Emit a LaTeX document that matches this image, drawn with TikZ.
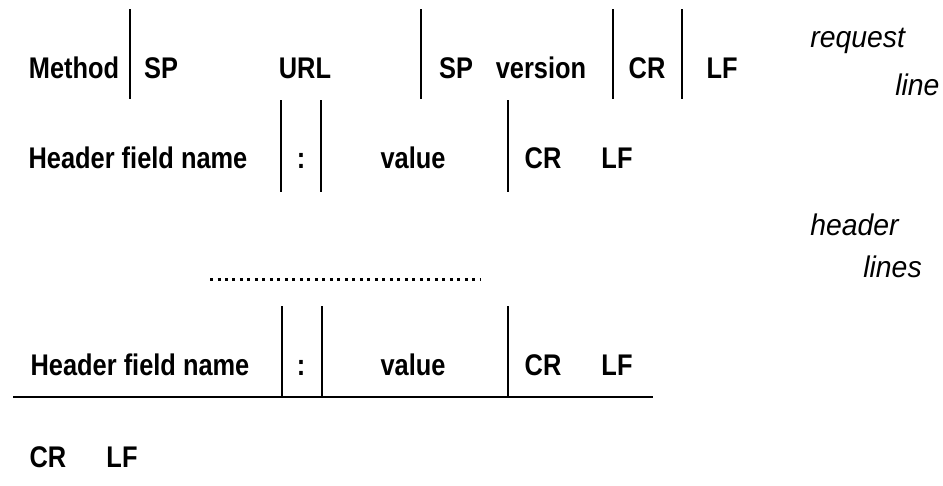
\documentclass[tikz,border=0pt]{standalone}
\usepackage{fontspec}
\setmainfont[FakeStretch=0.85]{Liberation Sans}
\newfontfamily\notefont[FakeStretch=0.95]{Liberation Sans}

\begin{document}
\begin{tikzpicture}[x=0.02cm, y=-0.02cm,
    field/.style={font=\fontsize{17}{20}\selectfont\bfseries, inner sep=0pt, anchor=base},
    note/.style={font=\notefont\fontsize{17}{20}\selectfont\itshape, inner sep=0pt, anchor=base west},
    sep/.style={line width=1.1pt}]
    \useasboundingbox (0,0) rectangle (943,485);
    % request line
    \node[field] (method) at (74,78) {Method};
    \node[field] (sp1) at (161,78) {SP};
    \node[field] (url) at (305,78) {URL};
    \node[field] (sp2) at (456,78) {SP};
    \node[field] (version) at (541,78) {version};
    \node[field] (cr1) at (647,78) {CR};
    \node[field] (lf1) at (722,78) {LF};
    \foreach \x in {130,421,613,682} \draw[sep] (\x,9) -- (\x,99);
    % first header line
    \node[field] (name1) at (138,168) {Header field name};
    \node[field] (colon1) at (301,168) {:};
    \node[field] (value1) at (413,168) {value};
    \node[field] (cr2) at (543,168) {CR};
    \node[field] (lf2) at (617,168) {LF};
    \foreach \x in {281,321,508} \draw[sep] (\x,100) -- (\x,192);
    % more header lines
    \draw[line width=0.06cm, dash pattern=on 0.06cm off 0.09cm] (210,279) -- (481,279);
    % last header line
    \node[field] (name2) at (140,375) {Header field name};
    \node[field] (colon2) at (301,375) {:};
    \node[field] (value2) at (413,375) {value};
    \node[field] (cr3) at (543,375) {CR};
    \node[field] (lf3) at (617,375) {LF};
    \foreach \x in {282,322,508} \draw[sep] (\x,306) -- (\x,397);
    \draw[sep] (13,397) -- (653,397);
    % blank line
    \node[field] (cr4) at (48,467) {CR};
    \node[field] (lf4) at (122,467) {LF};
    % side notes
    \node[note] (req) at (810,47) {request};
    \node[note] (reqline) at (895,95) {line};
    \node[note] (hdr) at (810,235) {header};
    \node[note] (hdrlines) at (863,277) {lines};
\end{tikzpicture}
\end{document}
